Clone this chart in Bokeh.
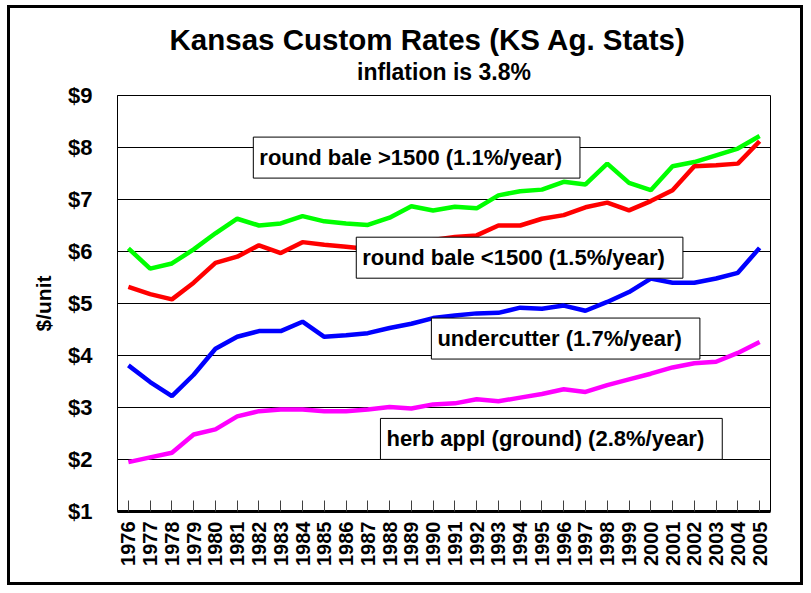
from bokeh.plotting import figure
from bokeh.models import Label, FixedTicker, PrintfTickFormatter, Range1d, LinearAxis
from bokeh.embed import file_html
from bokeh.resources import INLINE
from math import pi

years = list(range(1976, 2006))
y_ticks = [1, 2, 3, 4, 5, 6, 7, 8, 9]

round_gt = [6.06, 5.67, 5.77, 6.04, 6.35, 6.63, 6.50, 6.54, 6.68, 6.58,
            6.54, 6.51, 6.65, 6.87, 6.79, 6.86, 6.83, 7.08, 7.16, 7.19,
            7.34, 7.29, 7.69, 7.32, 7.18, 7.64, 7.72, 7.85, 7.98, 8.22]
round_lt = [5.32, 5.18, 5.08, 5.40, 5.78, 5.90, 6.12, 5.97, 6.18, 6.13,
            6.09, 6.05, 6.10, 6.15, 6.22, 6.28, 6.31, 6.50, 6.50, 6.63,
            6.70, 6.85, 6.94, 6.79, 6.97, 7.18, 7.64, 7.66, 7.69, 8.12]
undercutter = [3.81, 3.49, 3.22, 3.63, 4.13, 4.36, 4.47, 4.47, 4.65, 4.36,
               4.39, 4.43, 4.53, 4.61, 4.72, 4.77, 4.81, 4.82, 4.92, 4.90,
               4.96, 4.86, 5.03, 5.22, 5.48, 5.40, 5.40, 5.48, 5.59, 6.07]
herb = [1.95, 2.04, 2.13, 2.48, 2.58, 2.83, 2.93, 2.96, 2.96, 2.93,
        2.93, 2.96, 3.01, 2.98, 3.06, 3.08, 3.16, 3.12, 3.19, 3.26,
        3.35, 3.30, 3.43, 3.54, 3.65, 3.77, 3.85, 3.88, 4.05, 4.26]

series_labels = ["round bale >1500 (1.1%/year)", "round bale <1500 (1.5%/year)",
                 "undercutter (1.7%/year)", "herb appl (ground) (2.8%/year)"]
title_text = "Kansas Custom Rates (KS Ag. Stats)"
subtitle_text = "inflation is 3.8%"

FONT = "Liberation Sans"

p = figure(width=796, height=580, output_backend="svg", toolbar_location=None,
           x_range=Range1d(1975.5, 2005.5), y_range=Range1d(1, 9),
           min_border_left=107, min_border_right=36,
           min_border_top=87, min_border_bottom=77)
p.styles = {"border": "3px solid black", "margin-left": "7px", "margin-top": "5px"}
p.background_fill_color = "white"
p.border_fill_color = "white"
p.outline_line_color = "black"
p.outline_line_width = 1

# subtitle as label of an empty axis above the frame
sub_axis = LinearAxis(ticker=FixedTicker(ticks=[]), axis_label=subtitle_text,
                      axis_line_color=None, major_tick_line_color=None,
                      minor_tick_line_color=None,
                      axis_label_text_font=FONT, axis_label_text_font_style="bold",
                      axis_label_text_font_size="23px", axis_label_text_color="black",
                      axis_label_text_line_height=0.95,
                      axis_label_standoff=11)
p.add_layout(sub_axis, "above")

# main title
p.title.text = title_text
p.title.text_font = FONT
p.title.text_font_style = "bold"
p.title.text_font_size = "29.5px"
p.title.text_color = "black"
p.title.align = "left"
p.title.offset = 52
p.title.standoff = 0

# grid
p.xgrid.visible = False
p.ygrid.ticker = FixedTicker(ticks=y_ticks)
p.ygrid.grid_line_color = "black"
p.ygrid.grid_line_width = 1

# x axis
xa = p.below[0]
xa.ticker = FixedTicker(ticks=years)
xa.major_label_orientation = pi / 2
xa.major_label_text_font = FONT
xa.major_label_text_font_style = "bold"
xa.major_label_text_font_size = "20px"
xa.major_label_text_color = "black"
xa.major_label_standoff = 10
xa.major_tick_in = 11
xa.major_tick_out = 0
xa.major_tick_line_color = "#404040"
xa.minor_tick_line_color = None
xa.axis_line_color = "black"
xa.axis_line_width = 3

# y axis
ya = p.left[0]
ya.ticker = FixedTicker(ticks=y_ticks)
ya.formatter = PrintfTickFormatter(format="$%d")
ya.major_label_text_font = FONT
ya.major_label_text_font_style = "bold"
ya.major_label_text_font_size = "22px"
ya.major_label_text_color = "black"
ya.major_label_standoff = 19
ya.major_tick_line_color = None
ya.minor_tick_line_color = None
ya.axis_line_color = "black"
ya.axis_label = "$/unit"
ya.axis_label_text_font = FONT
ya.axis_label_text_font_style = "bold"
ya.axis_label_text_font_size = "21px"
ya.axis_label_text_color = "black"
ya.axis_label_standoff = 10

# lines
lw = 4.5
p.line(years, round_gt, line_color="#00FF00", line_width=lw)
p.line(years, round_lt, line_color="#FF0000", line_width=lw)
p.line(years, undercutter, line_color="#0000FF", line_width=lw)
p.line(years, herb, line_color="#FF00FF", line_width=lw)

# boxed labels
box_pos = [(1981.74, 8.20), (1986.47, 6.275), (1989.92, 4.72), (1987.58, 2.79)]
for (bx, by), txt in zip(box_pos, series_labels):
    p.add_layout(Label(x=bx, y=by, text=txt, anchor="top_left",
                       text_font=FONT, text_font_style="bold", text_font_size="22px",
                       text_color="black",
                       background_fill_color="white", border_line_color="black",
                       border_line_width=1,
                       padding=dict(left=6, right=18, top=8, bottom=8)))

open("out.html", "w").write(file_html(p, INLINE))
